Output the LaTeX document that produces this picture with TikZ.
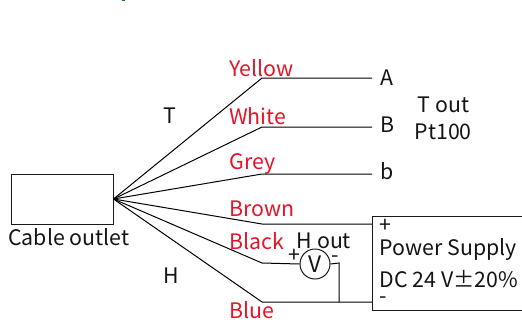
\documentclass[tikz,border=0pt]{standalone}
\usepackage{fontspec}
\setmainfont{Noto Sans CJK SC}
\definecolor{wirered}{RGB}{230,20,40}
\definecolor{txt}{RGB}{20,20,20}
\tikzset{
  wire/.style={draw=black,line width=0.75pt},
  lbl/.style={inner sep=0pt,anchor=base west,text=txt,font=\fontsize{16}{16}\selectfont},
  col/.style={lbl,text=wirered},
  frame/.style={draw=black!90,line width=0.75pt}
}
\begin{document}
\begin{tikzpicture}[x=0.75pt,y=-0.75pt]
\useasboundingbox (0,0) rectangle (522,322);
\fill[green!50!black] (122,0) rectangle (125,1.2);
\node[frame,minimum width=76.5pt,minimum height=37.5pt,inner sep=0pt] (cable) at (62,199) {};
\coordinate (hub) at (cable.east);
\node[frame,anchor=north west,minimum width=112.5pt,minimum height=70.5pt,inner sep=0pt] (psu) at (372,216) {};
\node[frame,circle,minimum size=22.5pt,inner sep=0pt] (volt) at (315,264) {};
\node[lbl,anchor=center,font=\fontsize{17}{17}\selectfont] (tv) at (315,264) {V};
\foreach \n/\x/\y in {ya/262/78,yb/372/78,wa/262/127,wb/372/127,ga/262/174,gb/372/174,ba/262/224,bb/372/224,ka/262/263,la/262/302,lb/372/302,vm/339/263,vj/339/302}
  \coordinate (\n) at (\x,\y);
\draw[wire] (hub) -- (ya) -- (yb);
\draw[wire] (hub) -- (wa) -- (wb);
\draw[wire] (hub) -- (ga) -- (gb);
\draw[wire] (hub) -- (ba) -- (bb);
\draw[wire] (hub) -- (ka) -- (volt.west);
\draw[wire] (hub) -- (la) -- (lb);
\draw[wire] (volt.east) -- (vm) -- (vj);
\node[col] (tyellow) at (229,76) {Yellow};
\node[col] (twhite) at (229,124) {White};
\node[col] (tgrey) at (229.5,169) {Grey};
\node[col] (tbrown) at (229.5,216) {Brown};
\node[col] (tblack) at (229.5,249) {Black};
\node[col] (tblue) at (229.5,318) {Blue};
\node[lbl] (tT) at (163,123) {T};
\node[lbl] (tH) at (163,283) {H};
\node[lbl] (tA) at (380,85) {A};
\node[lbl] (tB) at (380,132) {B};
\node[lbl] (tb) at (380,179) {b};
\node[lbl] (ttout) at (417.5,112) {T out};
\node[lbl] (tpt) at (414.5,139) {Pt100};
\node[lbl] (tcable) at (8,245) {Cable outlet};
\node[lbl] (thout) at (296.5,248) {H out};
\node[lbl] (tplus) at (288,262) {+};
\node[lbl] (tminus) at (331,262) {-};
\node[lbl] (tpp) at (379.5,232) {+};
\node[lbl] (tpow) at (379.5,255) {Power Supply};
\node[lbl] (tdc) at (379.5,287) {DC 24 V±20\%};
\node[lbl] (tpm) at (379.5,303) {-};
\end{tikzpicture}
\end{document}
